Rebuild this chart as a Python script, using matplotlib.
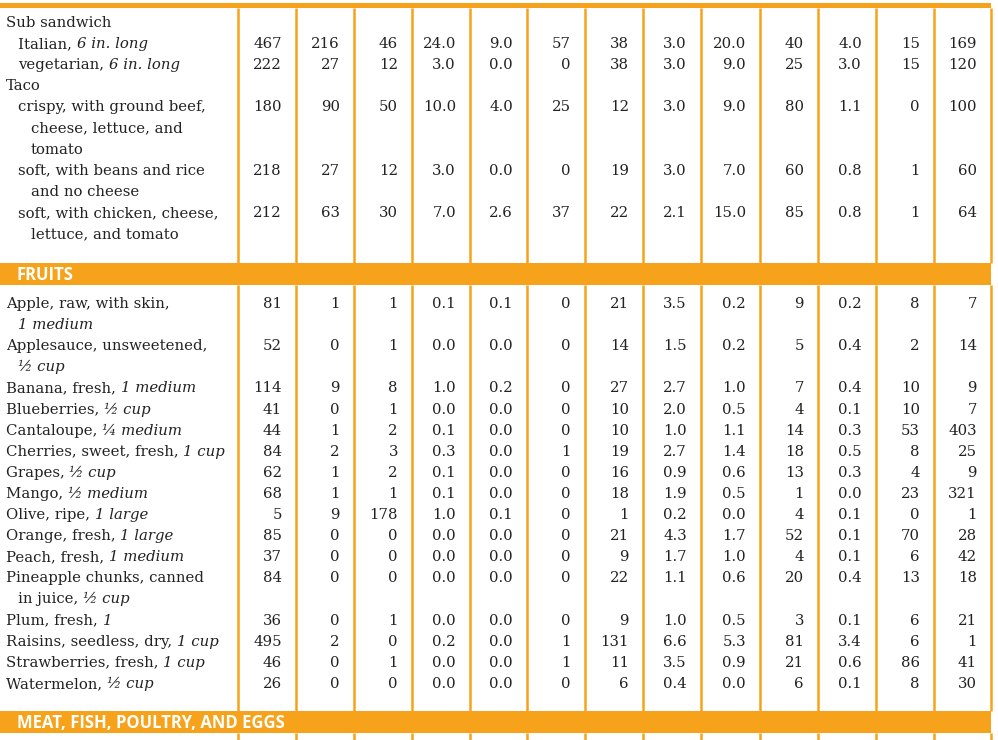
import matplotlib
matplotlib.use("Agg")
import matplotlib.pyplot as plt

ORANGE = "#F7A21B"

sub_items = [
    ([(0, "Sub sandwich", "")], None),
    ([(1, "Italian, ", "6 in. long")], ["467","216","46","24.0","9.0","57","38","3.0","20.0","40","4.0","15","169"]),
    ([(1, "vegetarian, ", "6 in. long")], ["222","27","12","3.0","0.0","0","38","3.0","9.0","25","3.0","15","120"]),
    ([(0, "Taco", "")], None),
    ([(1, "crispy, with ground beef,", ""), (2, "cheese, lettuce, and", ""), (2, "tomato", "")],
     ["180","90","50","10.0","4.0","25","12","3.0","9.0","80","1.1","0","100"]),
    ([(1, "soft, with beans and rice", ""), (2, "and no cheese", "")],
     ["218","27","12","3.0","0.0","0","19","3.0","7.0","60","0.8","1","60"]),
    ([(1, "soft, with chicken, cheese,", ""), (2, "lettuce, and tomato", "")],
     ["212","63","30","7.0","2.6","37","22","2.1","15.0","85","0.8","1","64"]),
]
fruit_items = [
    ([(0, "Apple, raw, with skin,", ""), (1, "", "1 medium")], ["81","1","1","0.1","0.1","0","21","3.5","0.2","9","0.2","8","7"]),
    ([(0, "Applesauce, unsweetened,", ""), (1, "", "½ cup")], ["52","0","1","0.0","0.0","0","14","1.5","0.2","5","0.4","2","14"]),
    ([(0, "Banana, fresh, ", "1 medium")], ["114","9","8","1.0","0.2","0","27","2.7","1.0","7","0.4","10","9"]),
    ([(0, "Blueberries, ", "½ cup")], ["41","0","1","0.0","0.0","0","10","2.0","0.5","4","0.1","10","7"]),
    ([(0, "Cantaloupe, ", "¼ medium")], ["44","1","2","0.1","0.0","0","10","1.0","1.1","14","0.3","53","403"]),
    ([(0, "Cherries, sweet, fresh, ", "1 cup")], ["84","2","3","0.3","0.0","1","19","2.7","1.4","18","0.5","8","25"]),
    ([(0, "Grapes, ", "½ cup")], ["62","1","2","0.1","0.0","0","16","0.9","0.6","13","0.3","4","9"]),
    ([(0, "Mango, ", "½ medium")], ["68","1","1","0.1","0.0","0","18","1.9","0.5","1","0.0","23","321"]),
    ([(0, "Olive, ripe, ", "1 large")], ["5","9","178","1.0","0.1","0","1","0.2","0.0","4","0.1","0","1"]),
    ([(0, "Orange, fresh, ", "1 large")], ["85","0","0","0.0","0.0","0","21","4.3","1.7","52","0.1","70","28"]),
    ([(0, "Peach, fresh, ", "1 medium")], ["37","0","0","0.0","0.0","0","9","1.7","1.0","4","0.1","6","42"]),
    ([(0, "Pineapple chunks, canned", ""), (1, "in juice, ", "½ cup")], ["84","0","0","0.0","0.0","0","22","1.1","0.6","20","0.4","13","18"]),
    ([(0, "Plum, fresh, ", "1")], ["36","0","1","0.0","0.0","0","9","1.0","0.5","3","0.1","6","21"]),
    ([(0, "Raisins, seedless, dry, ", "1 cup")], ["495","2","0","0.2","0.0","1","131","6.6","5.3","81","3.4","6","1"]),
    ([(0, "Strawberries, fresh, ", "1 cup")], ["46","0","1","0.0","0.0","1","11","3.5","0.9","21","0.6","86","41"]),
    ([(0, "Watermelon, ", "½ cup")], ["26","0","0","0.0","0.0","0","6","0.4","0.0","6","0.1","8","30"]),
]
section_titles = ["FRUITS", "MEAT, FISH, POULTRY, AND EGGS"]

W, H = 998, 740
fig = plt.figure(figsize=(W/100, H/100), dpi=100)
ax = fig.add_axes([0, 0, 1, 1])
ax.set_xlim(0, W); ax.set_ylim(H, 0); ax.axis("off")
r = fig.canvas.get_renderer()

col_lines = [238, 296, 354, 412, 470, 527, 585, 643, 701, 760, 818, 876, 934, 991]
LH = 21.1
FS = 10.7
serif = "DejaVu Serif"

ax.add_patch(plt.Rectangle((0, 3), 991, 5, color=ORANGE, lw=0))
bars = [(263, 22), (711, 22)]
for (y0, h), t in zip(bars, section_titles):
    ax.add_patch(plt.Rectangle((0, y0), 991, h, color=ORANGE, lw=0))
    ax.text(17, y0 + h/2 + 1, t, color="white", fontsize=12, fontweight="bold",
            family="Open Sans", va="center", ha="left")
for x in col_lines:
    for a, b in [(8, 263), (285, 711), (733, 740)]:
        ax.plot([x, x], [a, b], color=ORANGE, lw=1.8, solid_capstyle="butt")

def draw_items(items, y):
    for lines, vals in items:
        if vals:
            for i, v in enumerate(vals):
                ax.text(col_lines[i+1] - 14, y, v, fontsize=FS, family=serif,
                        ha="right", va="center", color="#222")
        for ind, rom, it in lines:
            x = 6 + ind * 12.5
            if rom:
                t = ax.text(x, y, rom, fontsize=FS, family=serif, va="center", color="#222")
                x = t.get_window_extent(renderer=r).x1
            if it:
                ax.text(x, y, it, fontsize=FS, family=serif, style="italic", va="center", color="#222")
            y += LH
    return y

draw_items(sub_items, 23)
draw_items(fruit_items, 304)

fig.savefig("out.png", dpi=100)
